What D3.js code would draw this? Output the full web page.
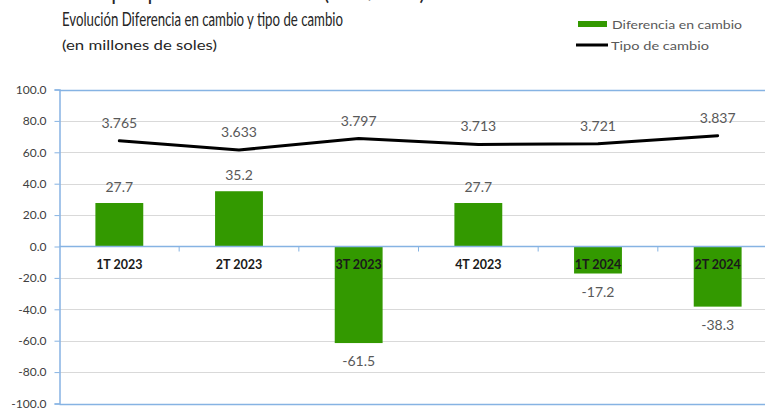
<!DOCTYPE html>
<html>
<head>
<meta charset="utf-8">
<script src="https://cdn.jsdelivr.net/npm/d3@7"></script>
<style>
  html, body { margin: 0; padding: 0; background: #fff; overflow: hidden; }
  svg { display: block; font-family: Lato, "Open Sans", sans-serif; }
</style>
</head>
<body>
<svg id="chart" width="765" height="408"></svg>
<script>
const categories = ["1T 2023", "2T 2023", "3T 2023", "4T 2023", "1T 2024", "2T 2024"];
const diferencia = [27.7, 35.2, -61.5, 27.7, -17.2, -38.3];
const tipoCambio = [3.765, 3.633, 3.797, 3.713, 3.721, 3.837];
const yTicks = [-100, -80, -60, -40, -20, 0, 20, 40, 60, 80, 100];
const y2Domain = [0, 4.5];

const GREEN = "#339900";
const BLUE = "#86b3e3";
const GRID = "#d9d9d9";

const svg = d3.select("#chart");

const plotLeft = 59.5, plotRight = 777.5, plotTop = 89.5, plotBottom = 403.5;

const x = d3.scaleBand().domain(categories).range([plotLeft, plotRight]).paddingInner(0.6).paddingOuter(0.3);
const xFull = d3.scaleBand().domain(categories).range([plotLeft, plotRight]).padding(0);
const y = d3.scaleLinear().domain([yTicks[0], yTicks[yTicks.length - 1]]).range([plotBottom, plotTop]);
const y2 = d3.scaleLinear().domain(y2Domain).range([plotBottom, plotTop]);
const cx = c => xFull(c) + xFull.bandwidth() / 2;

// top cut-off heading (only its lower edge is visible, as in the reference)
svg.append("text")
  .attr("x", 425).attr("y", 0)
  .attr("text-anchor", "end")
  .attr("font-size", 21)
  .attr("fill", "#262626")
  .text("Diferencia en cambio por período de análisis (en S/ 000)");

// title
svg.append("text")
  .attr("x", 62).attr("y", 26)
  .attr("font-size", 18.5)
  .attr("fill", "#262626")
  .attr("textLength", 281).attr("lengthAdjust", "spacingAndGlyphs")
  .text("Evolución Diferencia en cambio y tipo de cambio");
svg.append("text")
  .attr("x", 62).attr("y", 50)
  .attr("font-size", 13.5)
  .attr("fill", "#262626")
  .attr("textLength", 155).attr("lengthAdjust", "spacingAndGlyphs")
  .text("(en millones de soles)");

// legend
svg.append("rect").attr("x", 578).attr("y", 21).attr("width", 29).attr("height", 6).attr("fill", GREEN);
svg.append("text").attr("x", 612).attr("y", 29).attr("font-size", 12).attr("fill", "#595959")
  .attr("textLength", 130).attr("lengthAdjust", "spacingAndGlyphs").text("Diferencia en cambio");
svg.append("line").attr("x1", 576).attr("x2", 608).attr("y1", 45).attr("y2", 45)
  .attr("stroke", "#000").attr("stroke-width", 3);
svg.append("text").attr("x", 611).attr("y", 49.5).attr("font-size", 12).attr("fill", "#595959")
  .attr("textLength", 98).attr("lengthAdjust", "spacingAndGlyphs").text("Tipo de cambio");

// gridlines
svg.append("g").selectAll("line")
  .data(yTicks.filter(t => t !== 0 && t !== yTicks[0] && t !== yTicks[yTicks.length - 1]))
  .join("line")
  .attr("x1", plotLeft).attr("x2", plotRight)
  .attr("y1", d => Math.round(y(d)) + 0.5).attr("y2", d => Math.round(y(d)) + 0.5)
  .attr("stroke", GRID).attr("stroke-width", 1);

// plot border top & bottom
[yTicks[0], yTicks[yTicks.length - 1]].forEach(t => {
  svg.append("line").attr("x1", plotLeft).attr("x2", plotRight)
    .attr("y1", Math.round(y(t)) + 0.5).attr("y2", Math.round(y(t)) + 0.5)
    .attr("stroke", BLUE).attr("stroke-width", 1.5);
});

// bars
svg.append("g").selectAll("rect")
  .data(diferencia)
  .join("rect")
  .attr("x", (d, i) => x(categories[i]))
  .attr("width", x.bandwidth())
  .attr("y", d => y(Math.max(0, d)))
  .attr("height", d => Math.abs(y(d) - y(0)))
  .attr("fill", GREEN);

// left axis
const yAxis = svg.append("g")
  .attr("transform", `translate(${plotLeft},0)`)
  .call(d3.axisLeft(y).tickValues(yTicks).tickFormat(d => d.toFixed(1)).tickSize(5).tickPadding(8));
yAxis.select(".domain").attr("stroke", BLUE).attr("stroke-width", 1.5);
yAxis.selectAll(".tick line").attr("stroke", BLUE);
yAxis.selectAll(".tick text").attr("font-size", 12).attr("fill", "#404040")
  .attr("font-family", "Lato, 'Open Sans', sans-serif");

// zero axis with category ticks
svg.append("line").attr("x1", plotLeft).attr("x2", plotRight)
  .attr("y1", y(0)).attr("y2", y(0))
  .attr("stroke", BLUE).attr("stroke-width", 1.5);
svg.append("g").selectAll("line")
  .data(categories.slice(1))
  .join("line")
  .attr("x1", d => xFull(d)).attr("x2", d => xFull(d))
  .attr("y1", y(0)).attr("y2", y(0) + 5)
  .attr("stroke", BLUE).attr("stroke-width", 1);

// category labels
svg.append("g").selectAll("text")
  .data(categories)
  .join("text")
  .attr("x", d => cx(d))
  .attr("y", y(0) + 22)
  .attr("text-anchor", "middle")
  .attr("font-size", 12.5)
  .attr("font-weight", "bold")
  .attr("fill", "#1a1a1a")
  .text(d => d);

// bar labels
svg.append("g").selectAll("text")
  .data(diferencia)
  .join("text")
  .attr("x", (d, i) => cx(categories[i]))
  .attr("y", d => d >= 0 ? y(d) - 11 : y(d) + 23)
  .attr("text-anchor", "middle")
  .attr("font-size", 14)
  .attr("fill", "#595959")
  .text(d => d.toFixed(1));

// line
const line = d3.line()
  .x((d, i) => cx(categories[i]))
  .y(d => y2(d));
svg.append("path")
  .datum(tipoCambio)
  .attr("d", line)
  .attr("fill", "none")
  .attr("stroke", "#000")
  .attr("stroke-width", 3)
  .attr("stroke-linejoin", "round")
  .attr("stroke-linecap", "round");

// line labels
svg.append("g").selectAll("text")
  .data(tipoCambio)
  .join("text")
  .attr("x", (d, i) => cx(categories[i]))
  .attr("y", d => y2(d) - 13)
  .attr("text-anchor", "middle")
  .attr("font-size", 14)
  .attr("fill", "#595959")
  .text(d => d.toFixed(3));
</script>
</body>
</html>
